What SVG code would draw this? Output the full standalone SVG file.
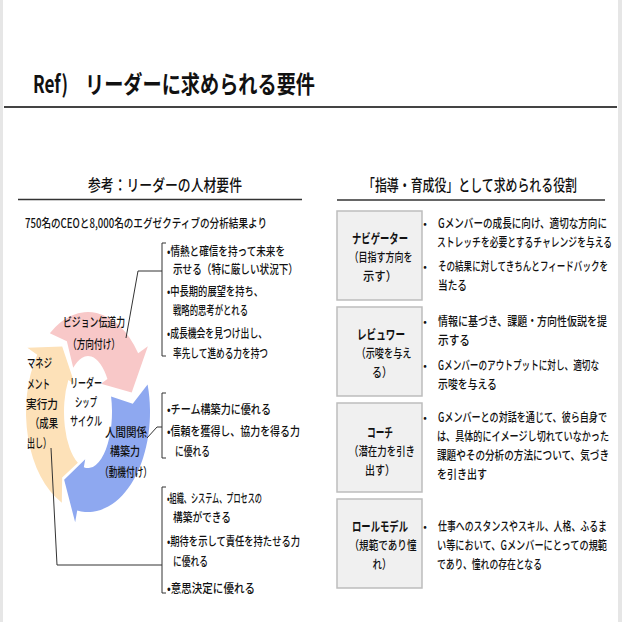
<svg xmlns="http://www.w3.org/2000/svg" width="622" height="622" viewBox="0 0 622 622">
<style>
text{font-family:"Noto Sans CJK JP","Noto Sans",sans-serif;fill:#111;dominant-baseline:central;font-weight:500}
.t{font-size:12.5px}
.h{font-size:16px}
.bl{font-size:13px;font-weight:bold}
.c{text-anchor:middle}
.dot{font-size:10px;text-anchor:middle}
.box{fill:#f0f0f0;stroke:#bdbdbd;stroke-width:1.5}
.ln{fill:none;stroke:#333;stroke-width:1}
.rule{stroke:#333;stroke-width:1.5}
</style>
<rect width="622" height="622" fill="#fff"/>
<rect x="0" y="0" width="3" height="622" fill="#e6e6e6"/>
<rect x="618" y="0" width="4" height="622" fill="#e6e6e6"/>

<g id="title">
<text x="33" y="82" style="font-size:24px;font-weight:bold" textLength="35" lengthAdjust="spacingAndGlyphs">Ref)</text>
<text x="85" y="82" style="font-size:24px;font-weight:bold" textLength="230" lengthAdjust="spacingAndGlyphs">リーダーに求められる要件</text>
<line x1="4" y1="107" x2="617" y2="107" stroke="#444" stroke-width="2"/>
</g>

<g id="left-heading">
<text class="h" x="88" y="184" textLength="154" lengthAdjust="spacingAndGlyphs">参考：リーダーの人材要件</text>
<line class="rule" x1="18" y1="199.5" x2="302" y2="199.5"/>
<text class="t" x="25" y="222" textLength="242" lengthAdjust="spacingAndGlyphs">750名のCEOと8,000名のエグゼクティブの分析結果より</text>
</g>

<g id="right-heading">
<text class="h" x="363" y="184" textLength="214" lengthAdjust="spacingAndGlyphs">「指導・育成役」として求められる役割</text>
<line class="rule" x1="337" y1="200" x2="605" y2="200"/>
</g>

<g id="cycle">
<path id="arrow-blue" fill="#8ea8f0" d="M147.60,384.44 A62,100 0 0 1 77.23,510.48 L75.15,522.30 L64.15,479.84 L85.22,459.27 L83.83,467.15 A24,56 0 0 0 111.07,396.56 L132.75,403.64 Z"/>
<path id="arrow-orange" fill="#fde1b8" d="M61.80,502.63 A62,100 0 0 1 37.21,354.64 L27.38,347.76 L62.19,346.47 L74.89,384.47 L68.34,379.88 A24,56 0 0 0 77.86,462.75 L62.19,477.53 Z"/>
<path id="arrow-pink" fill="#f8c8c8" d="M49.83,333.20 A62,100 0 0 1 138.16,353.22 L147.87,346.17 L131.70,392.60 L100.94,383.79 L107.42,379.08 A24,56 0 0 0 73.22,367.87 L66.87,341.36 Z"/>
</g>

<g id="node-vision">
<text class="t c" x="94" y="321" textLength="62" lengthAdjust="spacingAndGlyphs">ビジョン伝道力</text>
<text class="t c" x="94" y="343" textLength="52" lengthAdjust="spacingAndGlyphs">（方向付け）</text>
</g>
<g id="node-management">
<text class="t" x="27" y="362" textLength="25" lengthAdjust="spacingAndGlyphs">マネジ</text>
<text class="t" x="27" y="383" textLength="23" lengthAdjust="spacingAndGlyphs">メント</text>
<text class="t" x="26" y="403" textLength="32" lengthAdjust="spacingAndGlyphs">実行力</text>
<text class="t" x="30" y="422" textLength="28" lengthAdjust="spacingAndGlyphs">（成果</text>
<text class="t" x="27" y="442" textLength="24" lengthAdjust="spacingAndGlyphs">出し）</text>
</g>
<g id="node-center">
<text class="t c" x="86" y="382" textLength="32" lengthAdjust="spacingAndGlyphs">リーダー</text>
<text class="t c" x="86" y="401" textLength="22" lengthAdjust="spacingAndGlyphs">シップ</text>
<text class="t c" x="86" y="420" textLength="32" lengthAdjust="spacingAndGlyphs">サイクル</text>
</g>
<g id="node-human">
<text class="t c" x="126" y="431" textLength="42" lengthAdjust="spacingAndGlyphs">人間関係</text>
<text class="t c" x="125" y="450" textLength="30" lengthAdjust="spacingAndGlyphs">構築力</text>
<text class="t c" x="126" y="471" textLength="52" lengthAdjust="spacingAndGlyphs">（動機付け）</text>
</g>

<g id="connectors">
<path class="ln" d="M166,243 H162 V356 H166"/>
<path class="ln" d="M162,271 H138 L126,338"/>
<path class="ln" d="M166,393 H162 V458 H166"/>
<path class="ln" d="M162,427 H157 L147,438"/>
<path class="ln" d="M166,487 H162 V593 H166"/>
<path class="ln" d="M162,565 H57 L51,448"/>
</g>

<g id="list-vision">
<text class="t" x="167" y="250" textLength="118" lengthAdjust="spacingAndGlyphs">•情熱と確信を持って未来を</text>
<text class="t" x="173" y="268" textLength="125" lengthAdjust="spacingAndGlyphs">示せる（特に厳しい状況下）</text>
<text class="t" x="167" y="290" textLength="96" lengthAdjust="spacingAndGlyphs">•中長期的展望を持ち、</text>
<text class="t" x="173" y="309" textLength="75" lengthAdjust="spacingAndGlyphs">戦略的思考がとれる</text>
<text class="t" x="167" y="332" textLength="100" lengthAdjust="spacingAndGlyphs">•成長機会を見つけ出し、</text>
<text class="t" x="173" y="352" textLength="95" lengthAdjust="spacingAndGlyphs">率先して進める力を持つ</text>
</g>
<g id="list-human">
<text class="t" x="167" y="408" textLength="104" lengthAdjust="spacingAndGlyphs">•チーム構築力に優れる</text>
<text class="t" x="167" y="430" textLength="133" lengthAdjust="spacingAndGlyphs">•信頼を獲得し、協力を得る力</text>
<text class="t" x="175" y="450" textLength="35" lengthAdjust="spacingAndGlyphs">に優れる</text>
</g>
<g id="list-management">
<text class="t" x="167" y="497" textLength="95" lengthAdjust="spacingAndGlyphs">•組織、システム、プロセスの</text>
<text class="t" x="173" y="516" textLength="58" lengthAdjust="spacingAndGlyphs">構築ができる</text>
<text class="t" x="167" y="540" textLength="133" lengthAdjust="spacingAndGlyphs">•期待を示して責任を持たせる力</text>
<text class="t" x="173" y="560" textLength="35" lengthAdjust="spacingAndGlyphs">に優れる</text>
<text class="t" x="167" y="587" textLength="88" lengthAdjust="spacingAndGlyphs">•意思決定に優れる</text>
</g>

<g id="role-navigator">
<rect class="box" x="337" y="211" width="85" height="89"/>
<text class="bl c" x="380" y="237" textLength="56" lengthAdjust="spacingAndGlyphs">ナビゲーター</text>
<text class="t c" x="381" y="256" textLength="63" lengthAdjust="spacingAndGlyphs">（目指す方向を</text>
<text class="t c" x="380" y="275" textLength="34" lengthAdjust="spacingAndGlyphs">示す）</text>
<text class="dot" x="425" y="222">•</text>
<text class="t" x="438" y="222" textLength="169" lengthAdjust="spacingAndGlyphs">Gメンバーの成長に向け、適切な方向に</text>
<text class="t" x="437" y="241" textLength="175" lengthAdjust="spacingAndGlyphs">ストレッチを必要とするチャレンジを与える</text>
<text class="dot" x="425" y="265">•</text>
<text class="t" x="438" y="265" textLength="170" lengthAdjust="spacingAndGlyphs">その結果に対してきちんとフィードバックを</text>
<text class="t" x="438" y="284" textLength="29" lengthAdjust="spacingAndGlyphs">当たる</text>
</g>

<g id="role-reviewer">
<rect class="box" x="337" y="307" width="85" height="89"/>
<text class="bl c" x="381" y="333" textLength="48" lengthAdjust="spacingAndGlyphs">レビュワー</text>
<text class="t c" x="384" y="352" textLength="55" lengthAdjust="spacingAndGlyphs">（示唆を与え</text>
<text class="t c" x="382" y="371" textLength="20" lengthAdjust="spacingAndGlyphs">る）</text>
<text class="dot" x="425" y="320">•</text>
<text class="t" x="438" y="320" textLength="169" lengthAdjust="spacingAndGlyphs">情報に基づき、課題・方向性仮説を提</text>
<text class="t" x="438" y="339" textLength="32" lengthAdjust="spacingAndGlyphs">示する</text>
<text class="dot" x="425" y="364">•</text>
<text class="t" x="438" y="364" textLength="161" lengthAdjust="spacingAndGlyphs">Gメンバーのアウトプットに対し、適切な</text>
<text class="t" x="438" y="383" textLength="59" lengthAdjust="spacingAndGlyphs">示唆を与える</text>
</g>

<g id="role-coach">
<rect class="box" x="337" y="403" width="85" height="89"/>
<text class="bl c" x="380" y="431" textLength="26" lengthAdjust="spacingAndGlyphs">コーチ</text>
<text class="t c" x="382" y="450" textLength="66" lengthAdjust="spacingAndGlyphs">（潜在力を引き</text>
<text class="t c" x="380" y="469" textLength="30" lengthAdjust="spacingAndGlyphs">出す）</text>
<text class="dot" x="425" y="416">•</text>
<text class="t" x="438" y="416" textLength="169" lengthAdjust="spacingAndGlyphs">Gメンバーとの対話を通じて、彼ら自身で</text>
<text class="t" x="437" y="435" textLength="172" lengthAdjust="spacingAndGlyphs">は、具体的にイメージし切れていなかった</text>
<text class="t" x="437" y="454" textLength="172" lengthAdjust="spacingAndGlyphs">課題やその分析の方法について、気づき</text>
<text class="t" x="437" y="473" textLength="50" lengthAdjust="spacingAndGlyphs">を引き出す</text>
</g>

<g id="role-model">
<rect class="box" x="337" y="499" width="85" height="89"/>
<text class="bl c" x="380" y="525" textLength="56" lengthAdjust="spacingAndGlyphs">ロールモデル</text>
<text class="t c" x="383" y="544" textLength="67" lengthAdjust="spacingAndGlyphs">（規範であり憧</text>
<text class="t c" x="382" y="563" textLength="19" lengthAdjust="spacingAndGlyphs">れ）</text>
<text class="dot" x="425" y="525">•</text>
<text class="t" x="438" y="525" textLength="169" lengthAdjust="spacingAndGlyphs">仕事へのスタンスやスキル、人格、ふるま</text>
<text class="t" x="437" y="544" textLength="170" lengthAdjust="spacingAndGlyphs">い等において、Gメンバーにとっての規範</text>
<text class="t" x="437" y="563" textLength="105" lengthAdjust="spacingAndGlyphs">であり、憧れの存在となる</text>
</g>
</svg>
